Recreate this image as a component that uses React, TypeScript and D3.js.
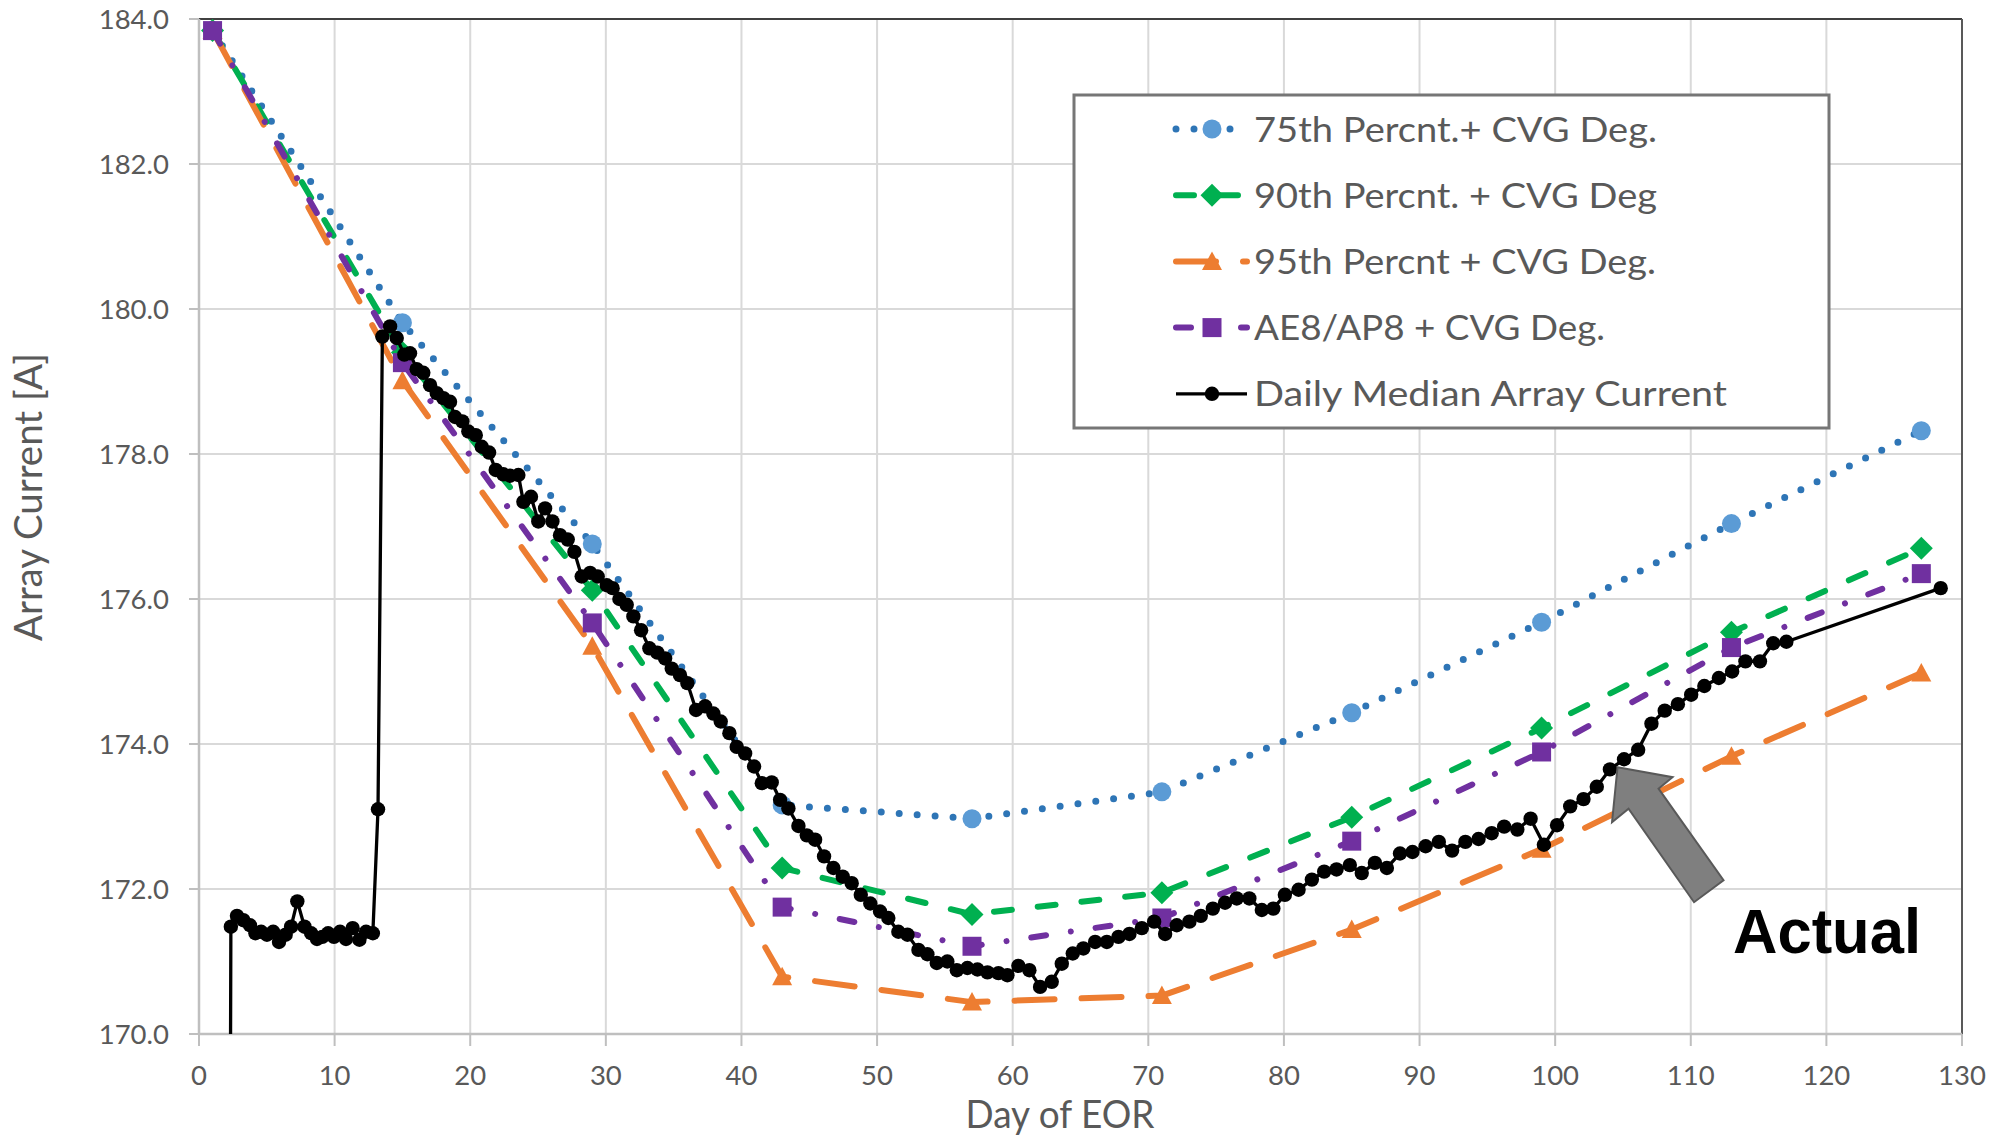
import React from "react";
import * as d3 from "d3";

// ---------- data ----------
const xTicks = [0, 10, 20, 30, 40, 50, 60, 70, 80, 90, 100, 110, 120, 130];
const yTicks = [170, 172, 174, 176, 178, 180, 182, 184];

const modelDays = [1, 15, 29, 43, 57, 71, 85, 99, 113, 127];
const p75Values = [183.84, 179.81, 176.76, 173.16, 172.97, 173.34, 174.43, 175.68, 177.04, 178.32];
const p90Values = [183.84, 179.4, 176.12, 172.29, 171.65, 171.95, 172.99, 174.22, 175.54, 176.7];
const p95Values = [183.84, 179.01, 175.35, 170.79, 170.44, 170.53, 171.44, 172.55, 173.83, 174.98];
const ae8Values = [183.84, 179.26, 175.67, 171.75, 171.21, 171.6, 172.66, 173.89, 175.33, 176.35];

const medianDays = [
  2.25, 2.35, 2.8, 3.27, 3.76, 4.16, 4.58, 5.01, 5.47, 5.9, 6.39, 6.79, 7.25, 7.78, 8.27, 8.7, 9.09, 9.52, 9.95,
  10.4, 10.84, 11.33, 11.83, 12.32, 12.82, 13.2, 13.52, 14.09, 14.58, 15.14, 15.56, 16.05, 16.54, 17.04, 17.53,
  18.02, 18.51, 18.88, 19.42, 19.86, 20.41, 20.85, 21.39, 21.88, 22.44, 22.94, 23.55, 23.92, 24.48, 25.02, 25.52,
  26.06, 26.62, 27.19, 27.68, 28.22, 28.84, 29.4, 30.07, 30.5, 31.0, 31.54, 32.03, 32.6, 33.21, 33.8, 34.37,
  34.86, 35.47, 36.01, 36.65, 37.32, 37.93, 38.47, 39.11, 39.65, 40.27, 40.93, 41.5, 42.23, 42.85, 43.46, 44.2,
  44.82, 45.43, 46.09, 46.78, 47.47, 48.13, 48.8, 49.5, 50.22, 50.83, 51.57, 52.24, 53.05, 53.71, 54.4, 55.18,
  55.88, 56.66, 57.4, 58.14, 58.95, 59.61, 60.42, 61.23, 62.02, 62.88, 63.62, 64.43, 65.21, 66.08, 66.94, 67.8,
  68.61, 69.52, 70.43, 71.24, 72.1, 73.03, 73.87, 74.76, 75.66, 76.52, 77.45, 78.37, 79.22, 80.07, 81.08, 82.06,
  82.97, 83.88, 84.86, 85.74, 86.71, 87.59, 88.56, 89.48, 90.45, 91.42, 92.4, 93.38, 94.35, 95.32, 96.24, 97.21,
  98.19, 99.17, 100.14, 101.11, 102.09, 103.07, 104.04, 105.08, 106.12, 107.1, 108.08, 109.05, 110.03, 111.0,
  112.07, 113.05, 114.03, 115.1, 116.08, 117.05, 128.43,
];
const medianValues = [
  165.0, 171.48, 171.63, 171.57, 171.5, 171.39, 171.41, 171.37, 171.41, 171.27, 171.37, 171.48, 171.83, 171.48,
  171.39, 171.31, 171.34, 171.39, 171.34, 171.41, 171.31, 171.46, 171.3, 171.41, 171.39, 173.1, 179.62, 179.76,
  179.6, 179.37, 179.39, 179.17, 179.12, 178.95, 178.84, 178.77, 178.72, 178.51, 178.45, 178.31, 178.26, 178.1,
  178.02, 177.78, 177.72, 177.7, 177.71, 177.34, 177.41, 177.07, 177.25, 177.07, 176.88, 176.82, 176.65, 176.31,
  176.36, 176.31, 176.19, 176.15, 176.0, 175.92, 175.76, 175.57, 175.32, 175.26, 175.18, 175.04, 174.95, 174.84,
  174.47, 174.52, 174.42, 174.31, 174.15, 173.96, 173.87, 173.69, 173.46, 173.47, 173.23, 173.11, 172.87, 172.74,
  172.68, 172.45, 172.29, 172.17, 172.08, 171.92, 171.8, 171.69, 171.6, 171.41, 171.37, 171.16, 171.1, 170.98,
  171.0, 170.88, 170.91, 170.89, 170.85, 170.84, 170.81, 170.94, 170.88, 170.65, 170.72, 170.97, 171.11, 171.18,
  171.27, 171.27, 171.34, 171.38, 171.46, 171.55, 171.38, 171.5, 171.55, 171.63, 171.73, 171.81, 171.87, 171.87,
  171.71, 171.73, 171.92, 171.99, 172.13, 172.24, 172.27, 172.33, 172.22, 172.36, 172.29, 172.49, 172.51, 172.59,
  172.65, 172.53, 172.65, 172.69, 172.77, 172.86, 172.82, 172.97, 172.61, 172.88, 173.14, 173.24, 173.41, 173.65,
  173.79, 173.92, 174.28, 174.46, 174.55, 174.68, 174.8, 174.91, 175.0, 175.14, 175.14, 175.39, 175.41, 176.15,
];

const legendLabels = [
  "75th Percnt.+ CVG Deg.",
  "90th Percnt. + CVG Deg",
  "95th Percnt + CVG Deg.",
  "AE8/AP8 + CVG Deg.",
  "Daily Median Array Current",
];

// annotation anchor (data coords of arrow tip)
const arrowTipDay = 104.6;
const arrowTipValue = 173.68;

// ---------- layout ----------
const W = 1998;
const H = 1138;
const x = d3.scaleLinear().domain([0, 130]).range([199, 1962]);
const y = d3.scaleLinear().domain([170, 184]).range([1034, 19]);

const FONT = "Lato, 'Open Sans', sans-serif";
const GRAY_TEXT = "#595959";

type Marker = "circle" | "diamond" | "triangle" | "square" | "dot";

interface SeriesDef {
  days: number[];
  values: number[];
  color: string;
  markerColor: string;
  width: number;
  dash: string;
  marker: Marker;
}

const series: SeriesDef[] = [
  { days: modelDays, values: p75Values, color: "#2E75B6", markerColor: "#5B9BD5", width: 7, dash: "0 18", marker: "circle" },
  { days: modelDays, values: p90Values, color: "#00B050", markerColor: "#00B050", width: 6, dash: "18 26", marker: "diamond" },
  { days: modelDays, values: p95Values, color: "#ED7D31", markerColor: "#ED7D31", width: 6, dash: "40 27", marker: "triangle" },
  { days: modelDays, values: ae8Values, color: "#7030A0", markerColor: "#7030A0", width: 6, dash: "15 25 0.01 25", marker: "square" },
  { days: medianDays, values: medianValues, color: "#000000", markerColor: "#000000", width: 3.3, dash: "", marker: "dot" },
];

function MarkerShape({ type, cx, cy, fill }: { type: Marker; cx: number; cy: number; fill: string }) {
  switch (type) {
    case "circle":
      return <circle cx={cx} cy={cy} r={9.5} fill={fill} />;
    case "diamond":
      return <path d={`M${cx},${cy - 11.5}L${cx + 11.5},${cy}L${cx},${cy + 11.5}L${cx - 11.5},${cy}Z`} fill={fill} />;
    case "triangle":
      return <path d={`M${cx},${cy - 10}L${cx + 10},${cy + 8.5}L${cx - 10},${cy + 8.5}Z`} fill={fill} />;
    case "square":
      return <rect x={cx - 9.5} y={cy - 9.5} width={19} height={19} fill={fill} />;
    case "dot":
      return <circle cx={cx} cy={cy} r={7.2} fill={fill} />;
  }
}

export default function App() {
  const line = d3
    .line<[number, number]>()
    .x((d) => x(d[0]))
    .y((d) => y(d[1]));

  const [x0, x1] = x.range();
  const [yb, yt] = y.range();

  // arrow geometry, relative to tip, in pixels
  const tx = x(arrowTipDay);
  const ty = y(arrowTipValue);
  const arrowPts: [number, number][] = [
    [0, 0],
    [55, 10],
    [41, 21.5],
    [106, 113],
    [76.5, 135],
    [11, 41.5],
    [-5.5, 55],
  ];
  const arrowPath = "M" + arrowPts.map((p) => `${tx + p[0]},${ty + p[1]}`).join("L") + "Z";

  const legendX = 1074;
  const legendY = 95;
  const legendW = 755;
  const legendH = 333;
  const rowY = (i: number) => 129 + i * 66.2;
  const legendTextLen = [403, 403, 402, 351, 473];

  return (
    <div style={{ position: "absolute", left: 0, top: 0 }}>
      <svg width={W} height={H} viewBox={`0 0 ${W} ${H}`} style={{ display: "block", background: "#fff" }}>
        <defs>
          <clipPath id="plotClip">
            <rect x={x0} y={yt - 2} width={x1 - x0} height={yb - yt + 2} />
          </clipPath>
        </defs>
        <rect x={0} y={0} width={W} height={H} fill="#fff" />

        {/* gridlines */}
        {xTicks.slice(1, -1).map((t) => (
          <line key={"gx" + t} x1={x(t)} x2={x(t)} y1={yt} y2={yb} stroke="#d9d9d9" strokeWidth={2} />
        ))}
        {yTicks.slice(1, -1).map((t) => (
          <line key={"gy" + t} x1={x0} x2={x1} y1={y(t)} y2={y(t)} stroke="#d9d9d9" strokeWidth={2} />
        ))}

        {/* plot border top/right */}
        <line x1={x0} x2={x1} y1={yt} y2={yt} stroke="#404040" strokeWidth={2} />
        <line x1={x1} x2={x1} y1={yt} y2={yb} stroke="#595959" strokeWidth={2} />

        {/* axes */}
        <line x1={x0} x2={x0} y1={yt} y2={yb} stroke="#bfbfbf" strokeWidth={2.5} />
        <line x1={x0} x2={x1} y1={yb} y2={yb} stroke="#bfbfbf" strokeWidth={2.5} />
        {yTicks.map((t) => (
          <line key={"ty" + t} x1={x0 - 10} x2={x0} y1={y(t)} y2={y(t)} stroke="#bfbfbf" strokeWidth={2} />
        ))}
        {xTicks.map((t) => (
          <line key={"tx" + t} x1={x(t)} x2={x(t)} y1={yb} y2={yb + 12} stroke="#bfbfbf" strokeWidth={2} />
        ))}

        {/* tick labels */}
        {yTicks.map((t) => (
          <text key={"ly" + t} x={169} y={y(t) + 10} textAnchor="end" fontFamily={FONT} fontSize={27.5} fill={GRAY_TEXT}>
            {t.toFixed(1)}
          </text>
        ))}
        {xTicks.map((t) => (
          <text key={"lx" + t} x={x(t)} y={yb + 51} textAnchor="middle" fontFamily={FONT} fontSize={27.5} fill={GRAY_TEXT}>
            {t}
          </text>
        ))}

        {/* axis titles */}
        <text x={1060} y={1128} textAnchor="middle" fontFamily={FONT} fontSize={38} fill={GRAY_TEXT} textLength={189} lengthAdjust="spacingAndGlyphs">
          Day of EOR
        </text>
        <text
          transform="translate(42,497) rotate(-90)"
          textAnchor="middle"
          fontFamily={FONT}
          fontSize={38}
          fill={GRAY_TEXT}
          textLength={288}
          lengthAdjust="spacingAndGlyphs"
        >
          Array Current [A]
        </text>

        {/* series */}
        <g clipPath="url(#plotClip)">
          {series.map((s, i) => {
            const pts = s.days.map((d, k) => [d, s.values[k]] as [number, number]);
            return (
              <g key={"s" + i}>
                <path
                  d={line(pts) || ""}
                  fill="none"
                  stroke={s.color}
                  strokeWidth={s.width}
                  strokeDasharray={s.dash || undefined}
                  strokeLinecap={s.dash ? "round" : "butt"}
                  strokeLinejoin="round"
                />
                {pts.map((p, k) => (
                  <MarkerShape key={k} type={s.marker} cx={x(p[0])} cy={y(p[1])} fill={s.markerColor} />
                ))}
              </g>
            );
          })}
        </g>

        {/* legend */}
        <rect x={legendX} y={legendY} width={legendW} height={legendH} fill="#fff" stroke="#767676" strokeWidth={3} />
        {series.map((s, i) => {
          const cy = rowY(i);
          return (
            <g key={"lg" + i}>
              <line
                x1={1176}
                x2={1247}
                y1={cy}
                y2={cy}
                stroke={s.color}
                strokeWidth={s.width}
                strokeDasharray={s.dash || undefined}
                strokeLinecap={s.dash ? "round" : "butt"}
              />
              <MarkerShape type={s.marker} cx={1212} cy={cy} fill={s.markerColor} />
              <text
                x={1254}
                y={cy + 12.5}
                fontFamily={FONT}
                fontSize={35}
                fill={GRAY_TEXT}
                textLength={legendTextLen[i]}
                lengthAdjust="spacingAndGlyphs"
              >
                {legendLabels[i]}
              </text>
            </g>
          );
        })}

        {/* annotation */}
        <path d={arrowPath} fill="#7F7F7F" stroke="#595959" strokeWidth={2} strokeLinejoin="miter" />
        <text
          x={1733}
          y={953}
          fontFamily="'Liberation Sans', Arial, sans-serif"
          fontWeight="bold"
          fontSize={63}
          fill="#000"
          textLength={188}
          lengthAdjust="spacingAndGlyphs"
        >
          Actual
        </text>
      </svg>
    </div>
  );
}
